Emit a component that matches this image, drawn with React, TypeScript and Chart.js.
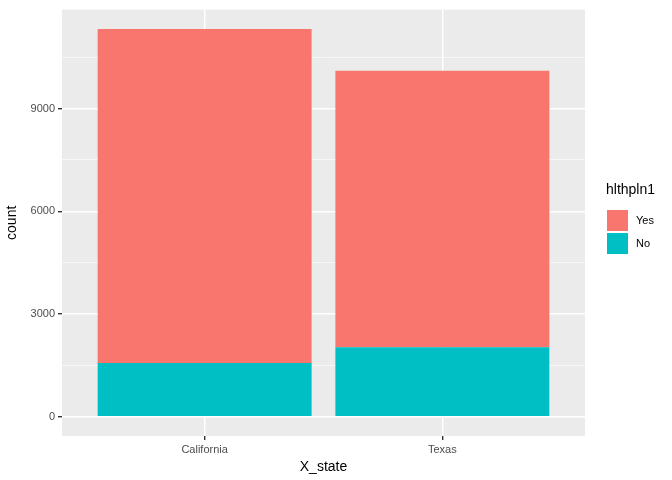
import React, { useEffect, useRef } from "react";
import { Chart, registerables } from "chart.js";
Chart.register(...registerables);

const categories = ["California", "Texas"];
const noValues = [1570, 2030];
const yesValues = [9750, 8075];
const yTicks = [0, 3000, 6000, 9000];

const panelBg = {
  id: "panelBg",
  beforeDraw(chart: any) {
    const { ctx, chartArea: a } = chart;
    ctx.save();
    ctx.fillStyle = "#ebebeb";
    ctx.fillRect(a.left, a.top, a.right - a.left, a.bottom - a.top);
    ctx.restore();
  },
};

export default function App() {
  const ref = useRef<HTMLCanvasElement>(null);
  useEffect(() => {
    const chart = new Chart(ref.current!, {
      type: "bar",
      data: {
        datasets: [
          { label: "No", data: categories.map((c, i) => ({ x: i + 1, y: noValues[i] })), backgroundColor: "#00bfc4", barPercentage: 0.9, categoryPercentage: 1 },
          { label: "Yes", data: categories.map((c, i) => ({ x: i + 1, y: yesValues[i] })), backgroundColor: "#f8766d", barPercentage: 0.9, categoryPercentage: 1 },
        ],
      },
      options: {
        animation: false,
        responsive: false,
        layout: { padding: { left: 0, right: 87, top: 5, bottom: 0 } },
        plugins: { legend: { display: false }, tooltip: { enabled: false } },
        scales: {
          x: {
            type: "linear",
            stacked: true,
            offset: false,
            min: 0.4,
            max: 2.6,
            afterBuildTicks: (s: any) => { s.ticks = categories.map((c, i) => ({ value: i + 1 })); },
            afterFit: (s: any) => { s.height = 44; },
            ticks: { color: "#4d4d4d", font: { family: "Liberation Sans", size: 11 }, padding: 3, callback: (v: any) => categories[Math.round(Number(v)) - 1] },
            grid: { offset: false, color: "#ffffff", lineWidth: 1.4, tickColor: "#333333", tickLength: 4 },
            border: { display: false },
            title: { display: true, text: "X_state", color: "#000", font: { family: "Liberation Sans", size: 14 }, padding: { top: 2 } },
          },
          y: {
            stacked: true,
            min: -566,
            max: 11890,
            afterBuildTicks: (s: any) => {
              const t: any[] = [];
              for (let v = 0; v <= 10500; v += 1500) t.push({ value: v });
              s.ticks = t;
            },
            afterFit: (s: any) => { s.width = 62; },
            ticks: {
              color: "#4d4d4d",
              font: { family: "Liberation Sans", size: 11 },
              padding: 3,
              callback: (v: any) => (yTicks.includes(Number(v)) ? String(v) : ""),
            },
            grid: {
              color: "#ffffff",
              lineWidth: (c: any) => (c.tick && c.tick.value % 3000 === 0 ? 1.4 : 0.6),
              tickColor: (c: any) => (c.tick && c.tick.value % 3000 === 0 ? "#333333" : "rgba(0,0,0,0)"),
              tickLength: 4,
            },
            border: { display: false },
            title: { display: true, text: "count", color: "#000", font: { family: "Liberation Sans", size: 14 }, padding: { bottom: 4 } },
          },
        },
      },
      plugins: [panelBg],
    });
    return () => chart.destroy();
  }, []);

  const font = "'Liberation Sans', Arial, sans-serif";
  return (
    <div style={{ position: "fixed", left: 0, top: 0, width: 672, height: 480, background: "#fff" }}>
      <canvas ref={ref} width={672} height={480} />
      <div style={{ position: "absolute", left: 606, top: 181, fontFamily: font, fontSize: 14, color: "#000" }}>hlthpln1</div>
      <div style={{ position: "absolute", left: 607, top: 210, width: 21, height: 21, background: "#f8766d" }} />
      <div style={{ position: "absolute", left: 607, top: 233, width: 21, height: 21, background: "#00bfc4" }} />
      <div style={{ position: "absolute", left: 636, top: 214, fontFamily: font, fontSize: 11, color: "#000" }}>Yes</div>
      <div style={{ position: "absolute", left: 636, top: 237, fontFamily: font, fontSize: 11, color: "#000" }}>No</div>
    </div>
  );
}
